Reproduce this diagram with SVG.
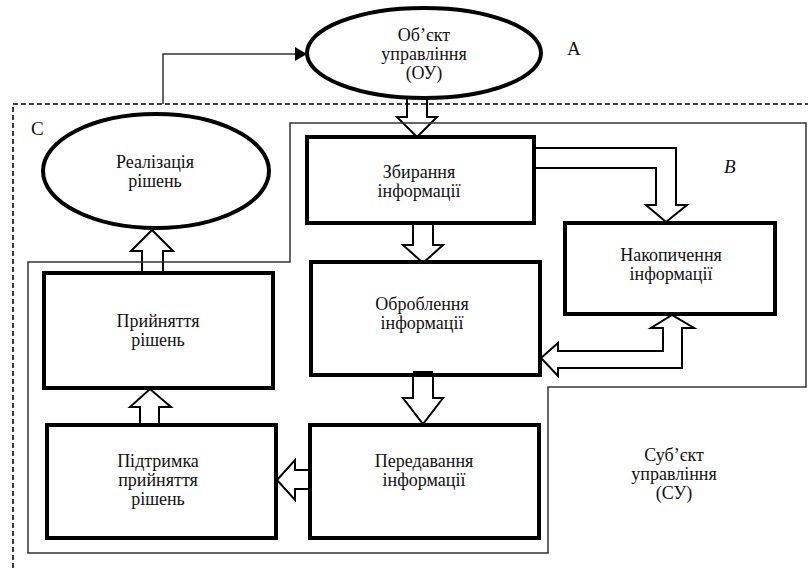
<svg xmlns="http://www.w3.org/2000/svg" width="808" height="571" viewBox="0 0 808 571">
<style>
.box{fill:#fff;stroke:#000;stroke-width:4}
.ell{fill:#fff;stroke:#000;stroke-width:4}
.harrow{fill:none;stroke:#000;stroke-width:2;stroke-linejoin:miter}
.txt{font-family:"Liberation Serif","DejaVu Serif","Times New Roman",serif;font-size:18px;fill:#111;text-anchor:middle}
.lbl{font-family:"Liberation Serif","DejaVu Serif","Times New Roman",serif;font-size:19px;fill:#111}
.region{fill:none;stroke:#333;stroke-width:1.5}
.dash{fill:none;stroke:#000;stroke-width:1.5;stroke-dasharray:5,3}
.thin{fill:none;stroke:#333;stroke-width:1.5}
</style>
<defs>
<marker id="tri" markerWidth="12" markerHeight="14" refX="12" refY="7" orient="auto" markerUnits="userSpaceOnUse">
<path d="M0,0 L12,7 L0,14 Z" fill="#000"/>
</marker>
</defs>
<rect width="808" height="571" fill="#fff"/>

<g id="nodes">
<g id="ou"><ellipse class="ell" cx="424" cy="53" rx="117" ry="45"/>
<text class="txt" x="424" y="41">Об’єкт</text><text class="txt" x="424" y="60">управління</text><text class="txt" x="424" y="79">(ОУ)</text></g>
<g id="realiz"><ellipse class="ell" cx="156" cy="171" rx="113" ry="57"/>
<text class="txt" x="155" y="168">Реалізація</text><text class="txt" x="155" y="187">рішень</text></g>
<g id="zbyr"><rect class="box" x="307" y="137" width="227" height="86"/>
<text class="txt" x="419" y="178">Збирання</text><text class="txt" x="419" y="197">інформації</text></g>
<g id="nakop"><rect class="box" x="565" y="223" width="210" height="91"/>
<text class="txt" x="671" y="261">Накопичення</text><text class="txt" x="671" y="280">інформації</text></g>
<g id="obrob"><rect class="box" x="311" y="262" width="229" height="113"/>
<text class="txt" x="422" y="310">Оброблення</text><text class="txt" x="422" y="329">інформації</text></g>
<g id="peredav"><rect class="box" x="310" y="425" width="229" height="113"/>
<text class="txt" x="424" y="467">Передавання</text><text class="txt" x="424" y="486">інформації</text></g>
<g id="pidtr"><rect class="box" x="47" y="425" width="229" height="113"/>
<text class="txt" x="158" y="467">Підтримка</text><text class="txt" x="158" y="486">прийняття</text><text class="txt" x="158" y="505">рішень</text></g>
<g id="pryin"><rect class="box" x="44" y="273" width="229" height="115"/>
<text class="txt" x="158" y="327">Прийняття</text><text class="txt" x="158" y="346">рішень</text></g>
<g id="su"><text class="txt" x="674" y="461">Суб’єкт</text><text class="txt" x="674" y="480">управління</text><text class="txt" x="674" y="499">(СУ)</text></g>
</g>

<g id="connectors">
<polyline class="harrow" points="407,99 407,117 397,117 417,137 437,117 427,117 427,99"/>
<polyline class="harrow" points="413,225 413,245 403,245 423,263 443,245 433,245 433,225"/>
<rect x="413" y="371" width="20" height="5" fill="#000"/>
<polyline class="harrow" points="413,375 413,398 403,398 423,424 443,398 433,398 433,375"/>
<polyline class="harrow" points="309,470 295,470 295,460 277,480 295,500 295,489 309,489"/>
<polyline class="harrow" points="140,424 140,407 130,407 150,389 171,407 159,407 159,424"/>
<polyline class="harrow" points="142,272 142,251 131,251 152,230 173,251 163,251 163,272"/>
<polyline class="harrow" points="536,148 676,148 676,205 687,205 666,222 646,205 656,205 656,168 536,168"/>
<polygon class="harrow" points="541,358 558,343 558,351 663,351 663,328 651,328 672,315 694,328 682,328 682,368 558,368 558,376"/>
<polyline class="thin" points="163,104 163,54 307,54" marker-end="url(#tri)"/>
</g>

<g id="regions">
<polygon class="region" points="290,123 806,123 806,387 548,387 548,553 28,553 28,262 290,262"/>
<polyline class="dash" points="13,568 13,104 808,104"/>
</g>

<g id="labels">
<text class="lbl" x="567" y="55">А</text>
<text class="lbl" x="31" y="135">С</text>
<text class="lbl" x="724" y="173" font-style="italic">B</text>
</g>
</svg>
